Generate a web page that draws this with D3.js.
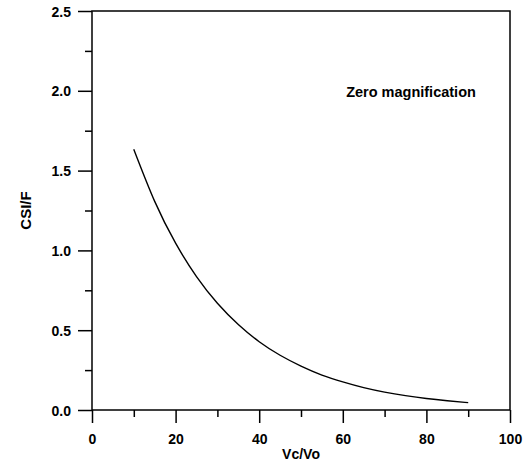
<!DOCTYPE html>
<html><head><meta charset="utf-8">
<script src="https://cdn.jsdelivr.net/npm/d3@7"></script>
<style>body{margin:0;background:#fff}svg{display:block}text{font-family:"Liberation Sans",Arial,sans-serif;font-weight:bold;fill:#000}</style>
</head><body>
<script>
const vcvo = [10,15,20,25,30,35,40,45,50,55,60,65,70,75,80,85,90];
const csif = [1.633,1.307,1.045,0.836,0.669,0.536,0.428,0.343,0.275,0.219,0.176,0.140,0.112,0.090,0.072,0.058,0.046];
const xTicks = [0,20,40,60,80,100];
const yTicks = [0.0,0.5,1.0,1.5,2.0,2.5];
const xLabel = "Vc/Vo", yLabel = "CSI/F", note = "Zero magnification";

const W=529,H=464, L=92,R=510,T=11,B=410;
const svg=d3.select("body").append("svg").attr("width",W).attr("height",H);
const x=d3.scaleLinear().domain([0,100]).range([L,R]);
const y=d3.scaleLinear().domain([0,2.5]).range([B,T]);

// frame
svg.append("rect").attr("x",L).attr("y",T).attr("width",R-L).attr("height",B-T)
  .attr("fill","none").attr("stroke","#000").attr("stroke-width",1.5);

const xa=svg.append("g").attr("transform",`translate(0,${B})`)
  .call(d3.axisBottom(x).tickValues(d3.range(0,101,10)).tickSize(13).tickFormat(d=>xTicks.includes(d)?d3.format("d")(d):""));
xa.selectAll(".tick line").attr("y2",d=>xTicks.includes(d)?13:7);
const ya=svg.append("g").attr("transform",`translate(${L},0)`)
  .call(d3.axisLeft(y).tickValues(d3.range(0,2.51,0.25)).tickSize(14).tickFormat(d=>yTicks.some(v=>Math.abs(v-d)<1e-9)?d3.format(".1f")(d):""));
ya.selectAll(".tick line").attr("x2",d=>yTicks.some(v=>Math.abs(v-d)<1e-9)?-14:-7);
[xa,ya].forEach(a=>{a.select(".domain").remove();a.selectAll(".tick line").attr("stroke","#000").attr("stroke-width",1.5);
  a.selectAll("text").style("font-size","14px").attr("font-family",null);});
xa.selectAll("text").attr("y",null).attr("dy",null).attr("transform","translate(0,34)");
ya.selectAll("text").attr("x",-21).attr("dy","0.36em");

svg.append("path").datum(vcvo.map((v,i)=>[v,csif[i]]))
  .attr("d",d3.line().x(d=>x(d[0])).y(d=>y(d[1])).curve(d3.curveNatural))
  .attr("fill","none").attr("stroke","#000").attr("stroke-width",1.4);

svg.append("text").attr("x",x(50)).attr("y",459).attr("text-anchor","middle").style("font-size","14px").text(xLabel);
svg.append("text").attr("transform",`translate(31,${(T+B)/2}) rotate(-90)`).attr("text-anchor","middle").style("font-size","15px").text(yLabel);
svg.append("text").attr("x",411).attr("y",97).attr("text-anchor","middle").style("font-size","14.5px").text(note);
</script>
</body></html>
